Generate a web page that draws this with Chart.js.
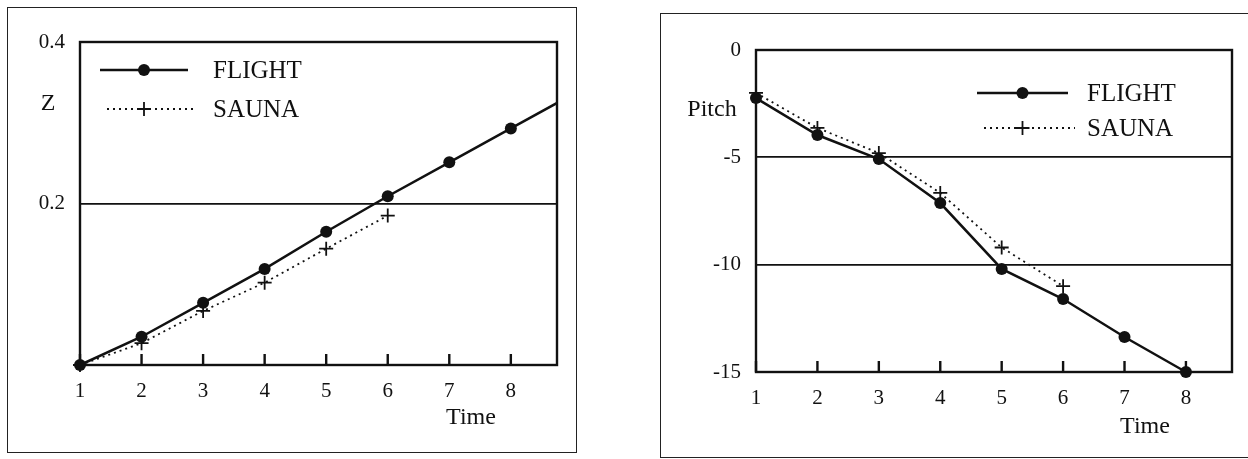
<!DOCTYPE html>
<html>
<head>
<meta charset="utf-8">
<script src="https://cdn.jsdelivr.net/npm/chart.js@4/dist/chart.umd.min.js"></script>
<style>
  body { margin: 0; width: 1248px; height: 459px; background: #fff; position: relative; overflow: hidden; }
  .box { position: absolute; border: 1.5px solid #222; box-sizing: border-box; }
  canvas { position: absolute; top: 0; }
</style>
</head>
<body>
<div class="box" style="left:7px;top:7px;width:570px;height:446px"></div>
<div class="box" style="left:660px;top:13px;width:640px;height:445px"></div>
<canvas id="zChart" width="620" height="459" style="left:0"></canvas>
<canvas id="pitchChart" width="628" height="459" style="left:620px"></canvas>
<script>
// values
const time = [1, 2, 3, 4, 5, 6, 7, 8, 9];
const zFlight = [0, 0.035, 0.077, 0.119, 0.165, 0.209, 0.251, 0.293, 0.335];
const zSauna = [0, 0.027, 0.067, 0.102, 0.144, 0.185];
const pitchFlight = [-2.24, -3.96, -5.08, -7.13, -10.2, -11.6, -13.37, -15.0];
const pitchSauna = [-2.0, -3.63, -4.8, -6.66, -9.2, -11.0];
const zTicks = ["", "0.2", "0.4"];

const FONT = '"Liberation Serif", "Times New Roman", serif';
Chart.defaults.font.family = FONT;
Chart.defaults.color = "#111";

const pairs = (ys) => ys.map((y, i) => ({ x: time[i], y: y }));

function flightSet(ys, clip) {
  return {
    label: "FLIGHT",
    data: pairs(ys),
    borderColor: "#111",
    backgroundColor: "#111",
    borderWidth: 2.5,
    pointStyle: "circle",
    pointRadius: 6,
    pointBorderWidth: 0,
    clip: clip,
  };
}

function saunaSet(ys) {
  return {
    label: "SAUNA",
    data: pairs(ys),
    borderColor: "#111",
    backgroundColor: "#111",
    borderWidth: 1.8,
    borderDash: [2, 4],
    pointStyle: "cross",
    pointRadius: 7,
    pointBorderWidth: 1.8,
    clip: 12,
  };
}

// plot frame + inward tick marks on the time axis
const framePlugin = {
  id: "frame",
  beforeDatasetsDraw(chart) {
    const { ctx, chartArea: a } = chart;
    const x = chart.scales.x;
    ctx.save();
    ctx.strokeStyle = "#111";
    ctx.lineWidth = 2.4;
    ctx.strokeRect(a.left, a.top, a.right - a.left, a.bottom - a.top);
    ctx.beginPath();
    x.ticks.forEach((t) => {
      const px = x.getPixelForValue(t.value);
      ctx.moveTo(px, a.bottom);
      ctx.lineTo(px, a.bottom - 11);
    });
    ctx.stroke();
    ctx.restore();
  },
};

// key drawn inside the plot, line with marker in the middle
const keyPlugin = {
  id: "key",
  afterDatasetsDraw(chart, args, opts) {
    const { ctx } = chart;
    ctx.save();
    chart.data.datasets.forEach((ds, i) => {
      const y = opts.y + i * opts.rowGap;
      const mid = opts.x + opts.len / 2;
      ctx.strokeStyle = ds.borderColor;
      ctx.lineWidth = ds.borderWidth;
      ctx.setLineDash(ds.borderDash || []);
      ctx.beginPath();
      ctx.moveTo(opts.x + (ds.borderDash ? 7 : 0), y);
      ctx.lineTo(opts.x + opts.len + (ds.borderDash ? 7 : 0), y);
      ctx.stroke();
      ctx.setLineDash([]);
      if (ds.pointStyle === "circle") {
        ctx.fillStyle = ds.backgroundColor;
        ctx.beginPath();
        ctx.arc(mid, y, ds.pointRadius, 0, Math.PI * 2);
        ctx.fill();
      } else {
        const r = ds.pointRadius;
        ctx.lineWidth = ds.pointBorderWidth;
        ctx.beginPath();
        ctx.moveTo(mid - r, y); ctx.lineTo(mid + r, y);
        ctx.moveTo(mid, y - r); ctx.lineTo(mid, y + r);
        ctx.stroke();
      }
      ctx.fillStyle = "#111";
      ctx.font = "25px " + FONT;
      ctx.textBaseline = "middle";
      ctx.fillText(ds.label, opts.textX, y + 1);
    });
    ctx.restore();
  },
};

// axis names sit beside the axes, not rotated
const namesPlugin = {
  id: "names",
  afterDraw(chart, args, opts) {
    const { ctx } = chart;
    ctx.save();
    ctx.fillStyle = "#111";
    ctx.font = "24px " + FONT;
    ctx.textAlign = "center";
    ctx.textBaseline = "middle";
    opts.items.forEach((it) => ctx.fillText(it.text, it.x, it.y));
    ctx.restore();
  },
};

function baseOptions(cfg) {
  return {
    responsive: false,
    animation: false,
    layout: { padding: { left: 0, top: cfg.top, right: cfg.right, bottom: 0 } },
    plugins: {
      legend: { display: false },
      tooltip: { enabled: false },
      key: cfg.key,
      names: { items: cfg.names },
    },
    scales: {
      x: {
        type: "linear",
        min: 1,
        max: 8.75,
        afterFit(s) { s.height = cfg.xHeight; },
        grid: { display: false, drawTicks: false },
        border: { display: false },
        ticks: {
          stepSize: 1,
          includeBounds: false,
          padding: cfg.xPad,
          font: { size: cfg.tickSize },
        },
      },
      y: {
        min: cfg.yMin,
        max: cfg.yMax,
        afterFit(s) { s.width = cfg.yWidth; },
        grid: { color: "#111", lineWidth: 1.8, drawTicks: false },
        border: { display: false },
        ticks: {
          stepSize: cfg.yStep,
          padding: 15,
          font: { size: cfg.tickSize },
          callback: cfg.yLabel,
        },
      },
    },
  };
}

new Chart(document.getElementById("zChart"), {
  type: "line",
  data: {
    datasets: [
      flightSet(zFlight, { left: 12, top: 12, right: 0, bottom: 12 }),
      saunaSet(zSauna),
    ],
  },
  options: baseOptions({
    top: 42, right: 63, xHeight: 94, yWidth: 80, xPad: 14, tickSize: 21,
    yMin: 0, yMax: 0.4, yStep: 0.2,
    yLabel: (v, i) => zTicks[i],
    key: { x: 100, y: 70, len: 88, rowGap: 39, textX: 213 },
    names: [{ text: "Z", x: 48, y: 104 }, { text: "Time", x: 471, y: 418 }],
  }),
  plugins: [framePlugin, keyPlugin, namesPlugin],
});

new Chart(document.getElementById("pitchChart"), {
  type: "line",
  data: {
    datasets: [flightSet(pitchFlight, 12), saunaSet(pitchSauna)],
  },
  options: baseOptions({
    top: 50, right: 16, xHeight: 87, yWidth: 136, xPad: 14, tickSize: 21,
    yMin: -15, yMax: 0, yStep: 5,
    yLabel: (v) => String(v),
    key: { x: 357, y: 93, len: 91, rowGap: 35, textX: 467 },
    names: [{ text: "Pitch", x: 92, y: 110 }, { text: "Time", x: 525, y: 427 }],
  }),
  plugins: [framePlugin, keyPlugin, namesPlugin],
});
</script>
</body>
</html>
